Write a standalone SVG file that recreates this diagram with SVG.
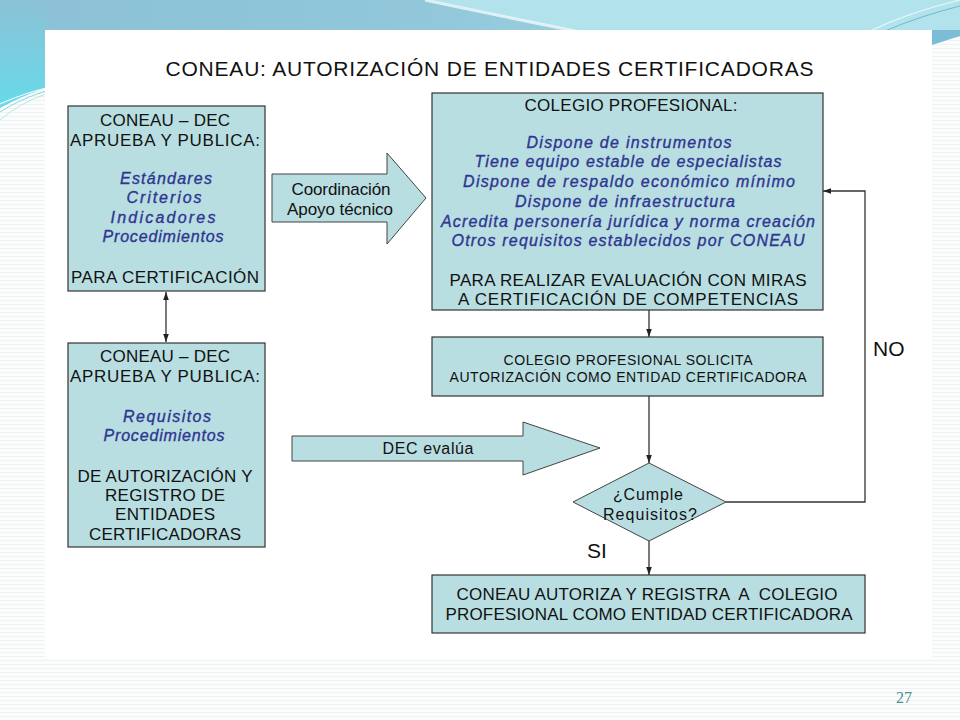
<svg xmlns="http://www.w3.org/2000/svg" width="960" height="720" viewBox="0 0 960 720">
  <defs>
    <style>
      .box { fill: #b8dee1; stroke: #333; stroke-width: 1.2; }
      .shape { fill: #b8dee1; stroke: #444; stroke-width: 1; }
      .cap { font-family: "Liberation Sans", Arial, sans-serif; font-size: 17px; fill: #111; text-anchor: middle; }
      .sm { font-family: "Liberation Sans", Arial, sans-serif; font-size: 14px; fill: #111; text-anchor: middle; }
      .it { font-family: "Liberation Sans", Arial, sans-serif; font-size: 16px; font-style: italic; fill: #2f3591; stroke: #2f3591; stroke-width: 0.35; text-anchor: middle; }
      .lbl { font-family: "Liberation Sans", Arial, sans-serif; font-size: 21px; fill: #111; }
      .conn { fill: none; stroke: #333; stroke-width: 1.3; }
      .pre { white-space: pre; }
    </style>
    <marker id="ah" viewBox="0 0 10 10" refX="10" refY="5" markerWidth="8" markerHeight="8" markerUnits="userSpaceOnUse" orient="auto-start-reverse">
      <path d="M0,1.5 L10,5 L0,8.5 Z" fill="#222"/>
    </marker>
    <linearGradient id="topg" x1="0" y1="0" x2="1" y2="0">
      <stop offset="0" stop-color="#8bc0d6"/>
      <stop offset="0.45" stop-color="#92c8da"/>
      <stop offset="1" stop-color="#a6dbe7"/>
    </linearGradient>
    <linearGradient id="leftg" x1="0" y1="0" x2="0" y2="1">
      <stop offset="0" stop-color="#8cc1d6"/>
      <stop offset="1" stop-color="#66dbea"/>
    </linearGradient>
    <pattern id="stripes" width="4" height="4" patternUnits="userSpaceOnUse">
      <rect width="4" height="4" fill="#fbfcfc"/>
      <rect width="4" height="1" fill="#eef2f3"/>
    </pattern>
  </defs>

  <g id="background">
    <rect x="0" y="0" width="960" height="720" fill="url(#stripes)"/>
    <rect x="0" y="0" width="960" height="32" fill="url(#topg)"/>
    <path d="M430,0 Q500,16 585,32 L960,32 L960,0 Z" fill="#b2e2ec"/>
    <path d="M425,0 Q500,16 580,32" fill="none" stroke="#eef9fb" stroke-width="3" opacity="0.8"/>
    <path d="M0,0 H46 V88 Q24,95 0,108 Z" fill="url(#leftg)"/>
    <path d="M0,104 Q22,94 46,88" fill="none" stroke="#ffffff" stroke-width="1.2" opacity="0.9"/>
    <path d="M0,112 Q20,99 46,91" fill="none" stroke="#8fd3e0" stroke-width="1"/>
    <path d="M0,120 Q18,104 46,94" fill="none" stroke="#b7e6ee" stroke-width="1"/>
    <path d="M870,31 Q910,12 960,0" fill="none" stroke="#e8f7fa" stroke-width="1.2"/>
    <path d="M885,31 Q920,16 960,6" fill="none" stroke="#6fb9d0" stroke-width="1"/>
    <path d="M932,30 H960 V36 L932,45 Z" fill="#7bbdd5"/>
    <rect x="45" y="30" width="887" height="628" fill="#ffffff"/>
  </g>

  <text id="title" class="lbl" x="489.5" y="76" text-anchor="middle" textLength="648">CONEAU: AUTORIZACIÓN DE ENTIDADES CERTIFICADORAS</text>

  <g id="connectors">
    <path class="conn" d="M166,292 V342" marker-start="url(#ah)" marker-end="url(#ah)"/>
    <path class="conn" d="M649,310 V337" marker-end="url(#ah)"/>
    <path class="conn" d="M649,396 V463" marker-end="url(#ah)"/>
    <path class="conn" d="M649,541 V575" marker-end="url(#ah)"/>
    <path class="conn" d="M726,502 H865 V191 H823" marker-end="url(#ah)"/>
  </g>

  <g id="node-coneau-dec-certificacion">
    <rect class="box" x="68" y="106" width="197" height="185"/>
    <text class="cap" x="165" y="126" textLength="130">CONEAU – DEC</text>
    <text class="cap" x="165" y="146" textLength="190">APRUEBA Y PUBLICA:</text>
    <text class="it" x="166" y="184" textLength="92">Estándares</text>
    <text class="it" x="164" y="203" textLength="75">Criterios</text>
    <text class="it" x="163" y="223" textLength="105">Indicadores</text>
    <text class="it" x="163" y="242" textLength="121">Procedimientos</text>
    <text class="cap" x="165" y="283" textLength="188">PARA CERTIFICACIÓN</text>
  </g>

  <g id="node-coneau-dec-autorizacion">
    <rect class="box" x="68" y="343" width="197" height="204"/>
    <text class="cap" x="165" y="362" textLength="130">CONEAU – DEC</text>
    <text class="cap" x="165" y="382" textLength="190">APRUEBA Y PUBLICA:</text>
    <text class="it" x="167" y="422" textLength="88">Requisitos</text>
    <text class="it" x="164" y="441" textLength="121">Procedimientos</text>
    <text class="cap" x="165" y="482" textLength="175">DE AUTORIZACIÓN Y</text>
    <text class="cap" x="165" y="501" textLength="120">REGISTRO DE</text>
    <text class="cap" x="165" y="520" textLength="100">ENTIDADES</text>
    <text class="cap" x="165" y="540" textLength="152">CERTIFICADORAS</text>
  </g>

  <g id="node-coordinacion">
    <polygon class="shape" points="272,174 387,174 387,153 426,198 387,244 387,222 272,222"/>
    <text class="cap" x="341" y="195" textLength="99">Coordinación</text>
    <text class="cap" x="340" y="215" textLength="106">Apoyo técnico</text>
  </g>

  <g id="node-dec-evalua">
    <polygon class="shape" points="292,436 523,436 523,422 600,448 523,475 523,461 292,461"/>
    <text class="cap" x="428" y="454" style="font-size:16px" textLength="91">DEC evalúa</text>
  </g>

  <g id="node-colegio-profesional">
    <rect class="box" x="432" y="93" width="391" height="217"/>
    <text class="cap" x="631" y="111" textLength="213">COLEGIO PROFESIONAL:</text>
    <text class="it" x="629" y="148" textLength="205">Dispone de instrumentos</text>
    <text class="it" x="628" y="167" textLength="307">Tiene equipo estable de especialistas</text>
    <text class="it" x="629" y="187" textLength="332">Dispone de respaldo económico mínimo</text>
    <text class="it" x="625" y="207" textLength="220">Dispone de infraestructura</text>
    <text class="it" x="628" y="227" textLength="374">Acredita personería jurídica y norma creación</text>
    <text class="it" x="628" y="246" textLength="353">Otros requisitos establecidos por CONEAU</text>
    <text class="cap" x="628" y="286" textLength="357">PARA REALIZAR EVALUACIÓN CON MIRAS</text>
    <text class="cap" x="628" y="305" textLength="340">A CERTIFICACIÓN DE COMPETENCIAS</text>
  </g>

  <g id="node-solicita">
    <rect class="box" x="432" y="337" width="391" height="59"/>
    <text class="sm" x="628" y="365" textLength="249">COLEGIO PROFESIONAL SOLICITA</text>
    <text class="sm" x="628" y="382" textLength="357">AUTORIZACIÓN COMO ENTIDAD CERTIFICADORA</text>
  </g>

  <g id="node-cumple">
    <polygon class="shape" points="649,463 726,502 649,541 573,502"/>
    <text class="cap" x="648" y="500" style="font-size:16px" textLength="70">¿Cumple</text>
    <text class="cap" x="650" y="520" style="font-size:16px" textLength="94">Requisitos?</text>
  </g>

  <g id="node-autoriza">
    <rect class="box" x="432" y="575" width="433" height="58"/>
    <text class="cap pre" x="647" y="600" textLength="381" xml:space="preserve">CONEAU AUTORIZA Y REGISTRA  A  COLEGIO</text>
    <text class="cap" x="649" y="620" textLength="407">PROFESIONAL COMO ENTIDAD CERTIFICADORA</text>
  </g>

  <g id="labels">
    <text class="lbl" x="873" y="356">NO</text>
    <text class="lbl" x="587" y="558">SI</text>
  </g>

  <text id="page-number" x="904" y="703" text-anchor="middle" font-family="'Liberation Serif', 'Times New Roman', serif" font-size="16" fill="#4a8f94">27</text>
</svg>
